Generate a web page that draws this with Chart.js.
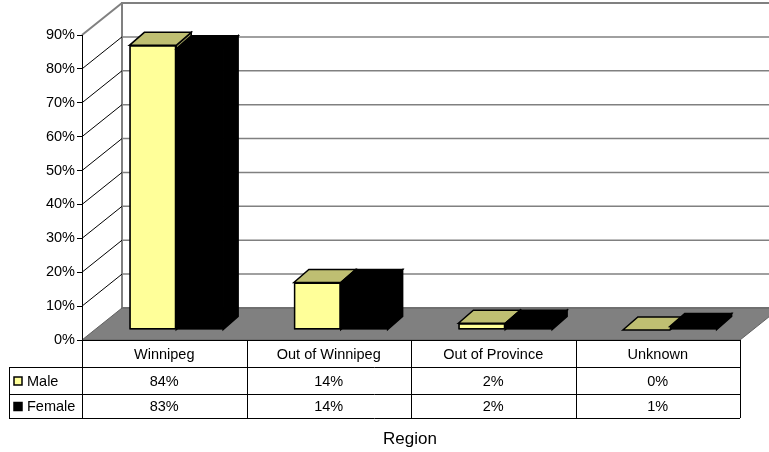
<!DOCTYPE html>
<html>
<head>
<meta charset="utf-8">
<script src="https://cdn.jsdelivr.net/npm/chart.js@4"></script>
<style>
  body { margin: 0; background: #fff; }
  #chart { display: block; }
</style>
</head>
<body>
<canvas id="chart" width="769" height="452"></canvas>
<script>
// Region breakdown, male vs female (3D column chart with data table)
const categories = ['Winnipeg', 'Out of Winnipeg', 'Out of Province', 'Unknown'];
const seriesNames = ['Male', 'Female'];
const maleValues = [84, 14, 2, 0];
const femaleValues = [83, 14, 2, 1];
const yTicks = [0, 10, 20, 30, 40, 50, 60, 70, 80, 90];
const axisTitle = 'Region';

const FONT = "Arial, 'Liberation Sans', sans-serif";
const DX = 40, DY = -32;   // wall depth
const BX = 12, BY = -10;   // bar front plane offset from the front axis
const TX = 15, TY = -13;   // bar depth
const frontColors = ['#FFFF99', '#000000'];
const topColors = ['#BFBF72', '#000000'];
const sideColors = ['#99995C', '#000000'];

function poly(ctx, pts, fill, stroke, lw) {
  ctx.beginPath();
  pts.forEach((p, i) => i ? ctx.lineTo(p[0], p[1]) : ctx.moveTo(p[0], p[1]));
  ctx.closePath();
  if (fill) { ctx.fillStyle = fill; ctx.fill(); }
  if (stroke) { ctx.strokeStyle = stroke; ctx.lineWidth = lw; ctx.stroke(); }
}

function line(ctx, x1, y1, x2, y2) {
  ctx.beginPath();
  ctx.moveTo(x1, y1);
  ctx.lineTo(x2, y2);
  ctx.stroke();
}

// walls, gridlines and floor behind everything
const walls = {
  id: 'walls',
  beforeDraw(chart) {
    const { ctx, chartArea: a, scales: { y } } = chart;
    const top = y.getPixelForValue(yTicks[yTicks.length - 1]);
    const bot = y.getPixelForValue(0);
    ctx.save();
    ctx.fillStyle = '#fff';
    ctx.fillRect(0, 0, chart.width, chart.height);

    // back wall
    ctx.strokeStyle = '#808080';
    ctx.lineWidth = 2;
    ctx.strokeRect(a.left + DX, top + DY, chart.width, bot - top);
    ctx.lineWidth = 1.5;
    yTicks.slice(1, -1).forEach(v => {
      const py = y.getPixelForValue(v) + DY;
      line(ctx, a.left + DX, py, chart.width + 20, py);
    });
    // side wall top edge
    ctx.lineWidth = 2;
    line(ctx, a.left, top, a.left + DX, top + DY);
    // side wall diagonals
    ctx.strokeStyle = '#000';
    ctx.lineWidth = 1;
    yTicks.slice(1, -1).forEach(v => {
      const py = y.getPixelForValue(v);
      line(ctx, a.left, py, a.left + DX, py + DY);
    });
    // floor
    poly(ctx, [[a.left, bot], [a.left + DX, bot + DY], [a.right + DX, bot + DY], [a.right, bot]], '#808080', '#606060', 1);
    ctx.restore();
  }
};

// bars with top and side faces, drawn category by category
const bars3d = {
  id: 'bars3d',
  beforeDatasetsDraw(chart) {
    const ctx = chart.ctx;
    const metas = seriesNames.map((n, d) => chart.getDatasetMeta(d));
    ctx.save();
    ctx.translate(BX, BY);
    categories.forEach((c, i) => {
      metas.forEach((meta, d) => {
        const el = meta.data[i];
        const { x, y, base, width } = el.getProps(['x', 'y', 'base', 'width'], true);
        const l = x - width / 2, r = x + width / 2;
        poly(ctx, [[r, y], [r + TX, y + TY], [r + TX, base + TY], [r, base]], sideColors[d], '#000', 1.5);
        poly(ctx, [[l, y], [l + TX, y + TY], [r + TX, y + TY], [r, y]], topColors[d], '#000', 1.5);
        // dark under-fill so the border/fill seam of the front face stays black
        ctx.fillStyle = '#000';
        ctx.fillRect(l, Math.min(y, base), width, Math.abs(base - y));
        el.draw(ctx);
      });
    });
    ctx.restore();
    return false;
  }
};

// data table under the plot and the axis title
const dataTable = {
  id: 'dataTable',
  afterDraw(chart) {
    const { ctx, chartArea: a, scales: { x } } = chart;
    const rows = [a.bottom, a.bottom + 27, a.bottom + 54, a.bottom + 78];
    const legendLeft = 9;
    const colW = (a.right - a.left) / categories.length;
    const values = [maleValues, femaleValues];
    ctx.save();
    ctx.strokeStyle = '#000';
    ctx.lineWidth = 1;
    line(ctx, a.left, rows[0] + 0.5, a.right, rows[0] + 0.5);
    rows.slice(1).forEach(ry => line(ctx, legendLeft, ry + 0.5, a.right, ry + 0.5));
    line(ctx, legendLeft + 0.5, rows[1], legendLeft + 0.5, rows[3]);
    for (let k = 0; k <= categories.length; k++) {
      const cx = Math.round(a.left + k * colW) + 0.5;
      line(ctx, cx, rows[0], cx, rows[3]);
    }

    ctx.fillStyle = '#000';
    ctx.font = '14.5px ' + FONT;
    ctx.textAlign = 'center';
    ctx.textBaseline = 'middle';
    categories.forEach((c, i) => {
      const cx = x.getPixelForValue(i);
      ctx.fillText(c, cx, (rows[0] + rows[1]) / 2 + 1);
      values.forEach((vals, d) => {
        ctx.fillText(vals[i] + '%', cx, (rows[d + 1] + rows[d + 2]) / 2 + 1);
      });
    });

    // legend keys
    ctx.textAlign = 'left';
    seriesNames.forEach((n, d) => {
      const cy = (rows[d + 1] + rows[d + 2]) / 2;
      ctx.fillStyle = frontColors[d];
      ctx.fillRect(legendLeft + 5, cy - 3.5, 8, 8);
      ctx.strokeStyle = '#000';
      ctx.lineWidth = 1.5;
      ctx.strokeRect(legendLeft + 5, cy - 3.5, 8, 8);
      ctx.fillStyle = '#000';
      ctx.fillText(n, legendLeft + 18, cy + 1);
    });

    ctx.textAlign = 'center';
    ctx.font = '17px ' + FONT;
    ctx.fillText(axisTitle, 410, 439);
    ctx.restore();
  }
};

new Chart(document.getElementById('chart'), {
  type: 'bar',
  data: {
    labels: categories,
    datasets: [
      { label: seriesNames[0], data: maleValues, backgroundColor: frontColors[0] },
      { label: seriesNames[1], data: femaleValues, backgroundColor: frontColors[1] }
    ]
  },
  options: {
    responsive: false,
    animation: false,
    devicePixelRatio: 1,
    layout: { padding: { left: 0, top: 35, right: 29, bottom: 112 } },
    datasets: {
      bar: {
        categoryPercentage: 0.57,
        barPercentage: 1.0,
        borderColor: '#000',
        borderWidth: 1.5,
        borderSkipped: false,
        inflateAmount: 0
      }
    },
    scales: {
      x: { display: false },
      y: {
        min: 0,
        max: 90,
        afterBuildTicks: s => { s.ticks = yTicks.map(v => ({ value: v })); },
        afterFit: s => { s.width = 82; },
        ticks: {
          callback: v => v + '%',
          color: '#000',
          font: { family: FONT, size: 14.5 },
          padding: 2
        },
        grid: { drawOnChartArea: false, drawTicks: true, tickLength: 5, color: '#000' },
        border: { color: '#000', width: 1 }
      }
    },
    plugins: {
      legend: { display: false },
      tooltip: { enabled: false }
    }
  },
  plugins: [walls, bars3d, dataTable]
});
</script>
</body>
</html>
